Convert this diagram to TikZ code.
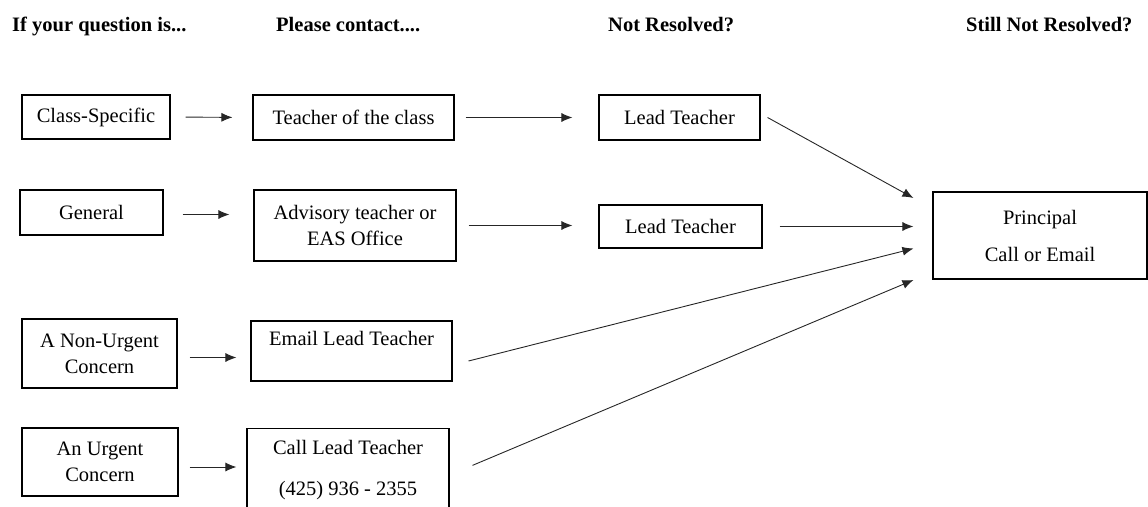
\documentclass[tikz,border=0pt]{standalone}
\usepackage{fontspec}
\setmainfont{Liberation Serif}
\usetikzlibrary{arrows.meta}
\usetikzlibrary{positioning}
\tikzset{box/.style = {draw, line width=1.1pt, align=center, inner sep=0pt,
                       font=\fontsize{20.5}{26}\selectfont},
         head/.style = {anchor=base west, inner sep=0pt,
                        font=\fontsize{20.5}{26}\selectfont\bfseries},
         arr/.style = {-{Latex[length=11pt,width=9pt]}, line width=0.9pt, black!85}}

\begin{document}
\begin{tikzpicture}[x=1pt, y=1pt]
    \useasboundingbox (0, 0) rectangle (1148, -506);
    \clip (0, 0) rectangle (1148, -506);

    \begin{scope}
      \node [head] (hq) at (12, -31) {If your question is...};
      \node [head] (hc) at (276, -31) {Please contact....};
      \node [head] (hn) at (608, -31) {Not Resolved?};
      \node [head] (hs) at (966, -31) {Still Not Resolved?};
    \end{scope}

    \begin{scope}
      \node [box, minimum width=148pt, minimum height=44pt] (cs) at (96, -117) {Class-Specific};
      \node [box, minimum width=143pt, minimum height=45pt] (gen) at (91.5, -212.5) {General};
      \node [box, minimum width=155pt, minimum height=69pt] (nu) at (99.5, -353.5) {A Non-Urgent\\Concern};
      \node [box, minimum width=156pt, minimum height=68pt] (ur) at (100, -462) {An Urgent\\Concern};
    \end{scope}

    \begin{scope}
      \node [box, minimum width=201pt, minimum height=45pt] (tc) at (353.5, -117.5) {Teacher of the class};
      \node [box, minimum width=202pt, minimum height=71pt] (adv) at (355, -225.5) {Advisory teacher or\\EAS Office};
      \node [box, minimum width=201pt, minimum height=60pt] (el) at (351.5, -351) {Email Lead Teacher\\\mbox{}};
      \node [box, minimum width=202pt, inner ysep=12pt, anchor=north] (cl) at (348, -428) {Call Lead Teacher\\[15pt](425) 936 - 2355};
    \end{scope}

    \begin{scope}
      \node [box, minimum width=161pt, minimum height=45pt] (lt1) at (679.5, -117.5) {Lead Teacher};
      \node [box, minimum width=163pt, minimum height=43pt] (lt2) at (680.5, -226.5) {Lead Teacher};
      \node [box, minimum width=214pt, minimum height=87pt] (pr) at (1040, -235.5) {Principal\\[11pt]Call or Email};
      \coordinate (in1) at ([shift={(-19, 37.5)}] pr.west);
      \coordinate (in3) at ([shift={(-19, -13)}] pr.west);
      \coordinate (in4) at ([shift={(-19, -44.5)}] pr.west);
    \end{scope}

    \draw [arr, shorten <=15pt, shorten >=20pt] (cs.east) -- (tc.west);
    \draw [arr, shorten <=11pt, shorten >=26pt] (tc.east) -- (lt1.west);
    \draw [arr, shorten <=19pt, shorten >=24pt] ([yshift=-2pt] gen.east) -- ([yshift=-2pt] gen.east -| adv.west);
    \draw [arr, shorten <=12pt, shorten >=26pt] (adv.east) -- (adv.east -| lt2.west);
    \draw [arr, shorten <=12pt, shorten >=14pt] ([yshift=-4pt] nu.east) -- ([yshift=-4pt] nu.east -| el.west);
    \draw [arr, shorten <=11pt, shorten >=10pt] ([yshift=-5pt] ur.east) -- ([yshift=-5pt] ur.east -| cl.west);

    \draw [arr] ([xshift=7pt] lt1.east) -- (in1);
    \draw [arr, shorten <=17pt, shorten >=19pt] (lt2.east) -- (lt2.east -| pr.west);
    \draw [arr] ([shift={(16, -10)}] el.east) -- (in3);
    \draw [arr] ([shift={(23, 5)}] cl.east) -- (in4);
\end{tikzpicture}
\end{document}
